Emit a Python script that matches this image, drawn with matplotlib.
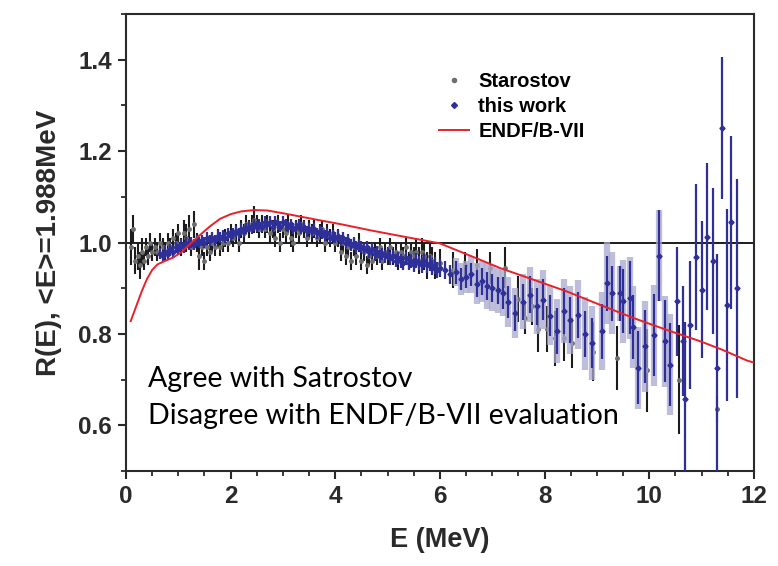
import matplotlib
matplotlib.use("Agg")
import matplotlib.pyplot as plt
from matplotlib.lines import Line2D
from matplotlib.ticker import MultipleLocator, FormatStrFormatter

# ---------------- data ----------------
# Starostov ratio measurements
star_E = [0.10, 0.14, 0.18, 0.22, 0.26, 0.30, 0.34, 0.38, 0.42, 0.46, 0.50, 0.55, 0.60, 0.65,
          0.70, 0.75, 0.80, 0.85, 0.90, 0.95, 1.00, 1.05, 1.10, 1.15, 1.20, 1.25, 1.30, 1.35,
          1.40, 1.45, 1.50, 1.55, 1.60, 1.65, 1.70, 1.75, 1.80, 1.85, 1.90, 1.95, 2.00, 2.05,
          2.10, 2.15, 2.20, 2.25, 2.30, 2.35, 2.40, 2.45, 2.50, 2.55, 2.60, 2.65, 2.70, 2.75,
          2.80, 2.85, 2.90, 2.95, 3.00, 3.05, 3.10, 3.15, 3.20, 3.25, 3.30, 3.35, 3.40, 3.45,
          3.50, 3.55, 3.60, 3.65, 3.70, 3.75, 3.80, 3.85, 3.90, 3.95, 4.00, 4.05, 4.10, 4.15,
          4.20, 4.25, 4.30, 4.35, 4.40, 4.45, 4.50, 4.55, 4.60, 4.65, 4.70, 4.75, 4.80, 4.85,
          4.90, 4.95, 5.00, 5.05, 5.10, 5.15, 5.20, 5.25, 5.30, 5.35, 5.40, 5.45, 5.50, 5.55,
          5.60, 5.65, 5.70, 5.75, 5.80, 5.85, 5.90, 6.00, 6.25, 6.48, 6.70, 6.96, 7.24, 7.50,
          7.62, 7.75, 7.88, 8.04, 8.20, 8.36, 8.52, 8.92, 9.38, 9.95, 10.57, 11.29]
star_R = [0.99, 1.03, 0.96, 0.97, 0.95, 0.98, 0.96, 0.99, 0.97, 1.00, 0.98, 0.99, 0.98, 1.00,
          0.99, 0.98, 1.00, 0.99, 1.01, 1.00, 1.02, 0.99, 1.02, 1.01, 1.03, 0.99, 1.04, 1.00,
          0.97, 0.99, 0.96, 0.99, 0.98, 1.00, 0.99, 1.01, 0.99, 1.00, 1.01, 1.00, 1.02, 1.01,
          1.02, 1.00, 1.03, 1.02, 1.04, 1.03, 1.04, 1.05, 1.04, 1.03, 1.04, 1.03, 1.04, 1.02,
          1.03, 1.01, 1.04, 1.00, 1.03, 1.02, 1.04, 1.01, 1.00, 1.03, 1.02, 1.04, 1.03, 1.01,
          1.03, 1.02, 1.03, 1.01, 1.02, 1.03, 1.00, 1.02, 1.01, 1.02, 1.00, 1.01, 0.98, 1.00,
          0.97, 0.99, 0.96, 0.99, 0.97, 1.00, 0.96, 0.98, 0.95, 0.97, 0.96, 0.98, 0.97, 0.99,
          0.96, 0.98, 0.97, 0.99, 0.97, 0.98, 0.96, 0.98, 0.97, 0.99, 0.96, 0.98, 0.97, 0.98,
          0.96, 0.98, 0.97, 0.95, 0.97, 0.96, 0.95, 0.955, 0.94, 0.95, 0.95, 0.945, 0.945, 0.877,
          0.835, 0.86, 0.81, 0.81, 0.79, 0.79, 0.78, 0.761, 0.748, 0.72, 0.70, 0.635]
star_err = [0.04, 0.03, 0.03, 0.03, 0.03, 0.03, 0.02, 0.02, 0.02, 0.02, 0.02, 0.02, 0.02, 0.02,
            0.02, 0.02, 0.02, 0.02, 0.02, 0.02, 0.02, 0.02, 0.03, 0.03, 0.03, 0.02, 0.03, 0.02,
            0.03, 0.02, 0.02, 0.02, 0.02, 0.02, 0.02, 0.02, 0.02, 0.02, 0.02, 0.02, 0.02, 0.02,
            0.02, 0.02, 0.02, 0.02, 0.02, 0.02, 0.02, 0.03, 0.02, 0.02, 0.02, 0.02, 0.02, 0.02,
            0.02, 0.02, 0.02, 0.02, 0.02, 0.02, 0.02, 0.02, 0.02, 0.02, 0.02, 0.02, 0.02, 0.02,
            0.02, 0.02, 0.02, 0.02, 0.02, 0.02, 0.02, 0.02, 0.02, 0.02, 0.02, 0.02, 0.02, 0.02,
            0.02, 0.02, 0.02, 0.02, 0.02, 0.02, 0.02, 0.02, 0.02, 0.02, 0.02, 0.02, 0.02, 0.02,
            0.02, 0.02, 0.02, 0.02, 0.02, 0.02, 0.02, 0.02, 0.02, 0.02, 0.02, 0.02, 0.02, 0.03,
            0.03, 0.03, 0.03, 0.03, 0.03, 0.03, 0.03, 0.03, 0.04, 0.03, 0.035, 0.035, 0.045, 0.05,
            0.035, 0.04, 0.05, 0.05, 0.06, 0.05, 0.055, 0.065, 0.07, 0.09, 0.12, 0.03]

# this work: ratio, statistical error, total error
work_E = [0.65, 0.70, 0.75, 0.80, 0.85, 0.90, 0.95, 1.00, 1.05, 1.10, 1.15, 1.20, 1.25, 1.30,
          1.35, 1.40, 1.45, 1.50, 1.55, 1.60, 1.65, 1.70, 1.75, 1.80, 1.85, 1.90, 1.95, 2.00,
          2.05, 2.10, 2.15, 2.20, 2.25, 2.30, 2.35, 2.40, 2.45, 2.50, 2.55, 2.60, 2.65, 2.70,
          2.75, 2.80, 2.85, 2.90, 2.95, 3.00, 3.05, 3.10, 3.15, 3.20, 3.25, 3.30, 3.35, 3.40,
          3.45, 3.50, 3.55, 3.60, 3.65, 3.70, 3.75, 3.80, 3.85, 3.90, 3.95, 4.00, 4.05, 4.10,
          4.15, 4.20, 4.25, 4.30, 4.35, 4.40, 4.45, 4.50, 4.55, 4.60, 4.65, 4.70, 4.75, 4.80,
          4.85, 4.90, 4.95, 5.00, 5.05, 5.10, 5.15, 5.20, 5.25, 5.30, 5.35, 5.40, 5.45, 5.50,
          5.55, 5.60, 5.65, 5.70, 5.75, 5.80, 5.85, 5.90, 5.95, 6.00, 6.10, 6.20, 6.30, 6.40,
          6.50, 6.60, 6.70, 6.80, 6.90, 7.00, 7.10, 7.20, 7.30, 7.43, 7.59, 7.72, 7.85, 7.97,
          8.10, 8.23, 8.36, 8.48, 8.64, 8.78, 8.90, 9.09, 9.19, 9.28, 9.44, 9.50, 9.63, 9.69,
          9.79, 9.92, 10.08, 10.19, 10.30, 10.40, 10.52, 10.65, 10.68, 10.78, 10.90, 11.00, 11.10, 11.22,
          11.29, 11.38, 11.48, 11.57, 11.68]
work_R = [0.975, 0.97, 0.98, 0.975, 0.985, 0.98, 0.99, 0.985, 0.995, 0.99, 1.00, 0.995, 1.00, 0.995,
          1.005, 1.00, 1.005, 1.00, 1.01, 1.005, 1.01, 1.005, 1.015, 1.01, 1.015, 1.01, 1.02, 1.015,
          1.02, 1.025, 1.02, 1.03, 1.025, 1.03, 1.035, 1.03, 1.04, 1.035, 1.04, 1.035, 1.045, 1.04,
          1.045, 1.035, 1.045, 1.04, 1.035, 1.045, 1.04, 1.035, 1.04, 1.03, 1.035, 1.04, 1.03, 1.035,
          1.025, 1.03, 1.025, 1.03, 1.02, 1.025, 1.02, 1.015, 1.02, 1.01, 1.015, 1.01, 1.015, 1.005,
          1.01, 1.00, 1.005, 0.995, 1.00, 0.99, 0.995, 0.99, 0.985, 0.99, 0.98, 0.985, 0.975, 0.98,
          0.97, 0.975, 0.97, 0.975, 0.965, 0.97, 0.96, 0.965, 0.96, 0.955, 0.965, 0.955, 0.96, 0.95,
          0.96, 0.955, 0.95, 0.96, 0.95, 0.955, 0.945, 0.95, 0.94, 0.945, 0.94, 0.93, 0.935, 0.92,
          0.925, 0.93, 0.91, 0.915, 0.905, 0.90, 0.895, 0.89, 0.87, 0.846, 0.87, 0.886, 0.86, 0.875,
          0.84, 0.806, 0.85, 0.83, 0.842, 0.80, 0.78, 0.806, 0.911, 0.889, 0.889, 0.871, 0.879, 0.815,
          0.726, 0.773, 0.797, 0.971, 0.784, 0.733, 0.871, 0.784, 0.657, 0.82, 0.969, 0.897, 1.013, 0.959,
          0.725, 1.251, 0.864, 1.044, 0.90]
work_stat = [0.012, 0.012, 0.012, 0.012, 0.012, 0.012, 0.012, 0.012, 0.012, 0.012, 0.012, 0.012, 0.012, 0.012,
             0.012, 0.012, 0.012, 0.012, 0.012, 0.012, 0.012, 0.012, 0.012, 0.012, 0.012, 0.012, 0.012, 0.012,
             0.012, 0.012, 0.012, 0.012, 0.012, 0.012, 0.012, 0.012, 0.012, 0.012, 0.012, 0.012, 0.012, 0.012,
             0.012, 0.012, 0.012, 0.012, 0.012, 0.012, 0.012, 0.012, 0.012, 0.012, 0.012, 0.012, 0.012, 0.012,
             0.012, 0.012, 0.012, 0.012, 0.012, 0.012, 0.012, 0.012, 0.012, 0.012, 0.012, 0.012, 0.012, 0.012,
             0.013, 0.013, 0.013, 0.013, 0.013, 0.013, 0.013, 0.013, 0.013, 0.013, 0.013, 0.013, 0.013, 0.013,
             0.014, 0.014, 0.014, 0.014, 0.014, 0.014, 0.014, 0.014, 0.015, 0.015, 0.015, 0.015, 0.015, 0.015,
             0.016, 0.016, 0.016, 0.016, 0.017, 0.017, 0.017, 0.018, 0.018, 0.018, 0.02, 0.02, 0.025, 0.025,
             0.025, 0.025, 0.03, 0.03, 0.03, 0.03, 0.03, 0.035, 0.035, 0.04, 0.04, 0.04, 0.04, 0.045,
             0.045, 0.05, 0.05, 0.05, 0.05, 0.05, 0.055, 0.06, 0.06, 0.06, 0.06, 0.07, 0.08, 0.07,
             0.08, 0.08, 0.09, 0.10, 0.09, 0.09, 0.12, 0.12, 0.17, 0.14, 0.16, 0.15, 0.16, 0.16,
             0.25, 0.155, 0.21, 0.19, 0.24]
work_tot = [0.0] * 110 + [
             0.03, 0.035, 0.035, 0.04,
             0.045, 0.045, 0.05, 0.05, 0.05, 0.05, 0.055, 0.055, 0.06, 0.06, 0.06, 0.065, 0.065, 0.07,
             0.07, 0.075, 0.075, 0.08, 0.08, 0.085, 0.09, 0.09, 0.06, 0.09, 0.09, 0.09, 0.09, 0.10,
             0.11, 0.10, 0.10, 0.11, 0.0, 0.0, 0.0, 0.0, 0.0, 0.0, 0.0, 0.0, 0.0, 0.0,
             0.0, 0.0, 0.0, 0.0, 0.0]

# ENDF/B-VII evaluation
endf_E = [0.09, 0.20, 0.30, 0.40, 0.50, 0.60, 0.75, 0.90, 1.05, 1.20, 1.40, 1.60, 1.80, 2.00,
          2.20, 2.45, 2.70, 3.00, 3.50, 4.15, 4.70, 5.30, 6.00, 6.60, 7.15, 7.80, 8.42, 9.05,
          9.69, 10.30, 10.97, 11.40, 11.86, 12.00]
endf_R = [0.828, 0.862, 0.893, 0.920, 0.940, 0.952, 0.960, 0.967, 0.978, 0.994, 1.015, 1.035, 1.052, 1.062,
          1.068, 1.071, 1.070, 1.064, 1.053, 1.039, 1.026, 1.013, 0.998, 0.970, 0.944, 0.918, 0.893, 0.864,
          0.835, 0.810, 0.784, 0.765, 0.742, 0.737]

x_ticks = [0, 2, 4, 6, 8, 10, 12]
y_ticks = [0.6, 0.8, 1.0, 1.2, 1.4]

# ---------------- figure ----------------
plt.rcParams['font.family'] = ['Liberation Sans', 'DejaVu Sans']
fig = plt.figure(figsize=(7.78, 5.66), dpi=100)
ax = fig.add_axes([126 / 778, 1 - 471 / 566, (754 - 126) / 778, (471 - 14) / 566])

BLUE = '#2f2f9a'
LIGHT = '#a9a9cf'
BLACK = '#1c1c1c'
RED = '#e8212b'
AXC = '#2a2a2a'

ax.axhline(1.0, color=BLACK, lw=1.4, zorder=1)

ax.errorbar(star_E, star_R, yerr=star_err, fmt='o', ms=2.5, color='#6e6e6e', mec='#6e6e6e',
            ecolor=BLACK, elinewidth=1.5, capsize=0, zorder=2)

tot_E = [e for e, t in zip(work_E, work_tot) if t > 0]
tot_R = [r for r, t in zip(work_R, work_tot) if t > 0]
tot_T = [t for t in work_tot if t > 0]
ax.errorbar(tot_E, tot_R, yerr=tot_T, fmt='none', ecolor=LIGHT, elinewidth=4.5, alpha=0.75,
            capsize=0, zorder=3)
ax.errorbar(work_E, work_R, yerr=work_stat, fmt='D', ms=2.6, color=BLUE, mec=BLUE,
            ecolor=BLUE, elinewidth=1.6, capsize=0, zorder=4)

ax.plot(endf_E, endf_R, color=RED, lw=1.4, zorder=5)

ax.set_xlim(0, 12)
ax.set_ylim(0.5, 1.5)
ax.set_xticks(x_ticks)
ax.set_yticks(y_ticks)
ax.xaxis.set_minor_locator(MultipleLocator(0.5))
ax.yaxis.set_minor_locator(MultipleLocator(0.1))
ax.yaxis.set_major_formatter(FormatStrFormatter('%.1f'))
ax.tick_params(which='major', direction='out', length=6, width=1.5, color=AXC,
               labelsize=17.5, pad=4)
ax.tick_params(which='minor', direction='out', length=3.5, width=1.3, color=AXC)
for lab in ax.get_xticklabels() + ax.get_yticklabels():
    lab.set_fontweight('bold')
    lab.set_color(AXC)
for sp in ax.spines.values():
    sp.set_linewidth(1.5)
    sp.set_color(AXC)

ax.set_xlabel('E (MeV)', fontsize=19.5, fontweight='bold', color=AXC, labelpad=14)
ax.set_ylabel('R(E), <E>=1.988MeV', fontsize=20, fontweight='bold', color=AXC, labelpad=12)

handles = [Line2D([], [], ls='none', marker='o', ms=3, color='#6e6e6e'),
           Line2D([], [], ls='none', marker='D', ms=3, color=BLUE),
           Line2D([], [], color=RED, lw=1.4)]
ax.legend(handles, ['Starostov', 'this work', 'ENDF/B-VII'], loc='upper left',
          bbox_to_anchor=(421 / 778, 1 - 54 / 566), bbox_transform=fig.transFigure,
          frameon=False, handlelength=1.5, handletextpad=0.45, labelspacing=0.3,
          prop={'family': 'Liberation Sans', 'weight': 'bold', 'size': 14.5})

fig.text(148 / 778, 1 - 387 / 566, 'Agree with Satrostov', fontsize=20.5, family='Lato',
         va='baseline', ha='left', color='black')
fig.text(148 / 778, 1 - 424 / 566, 'Disagree with ENDF/B-VII evaluation', fontsize=20.5,
         family='Lato', va='baseline', ha='left', color='black')

fig.savefig('out.png', dpi=100)
